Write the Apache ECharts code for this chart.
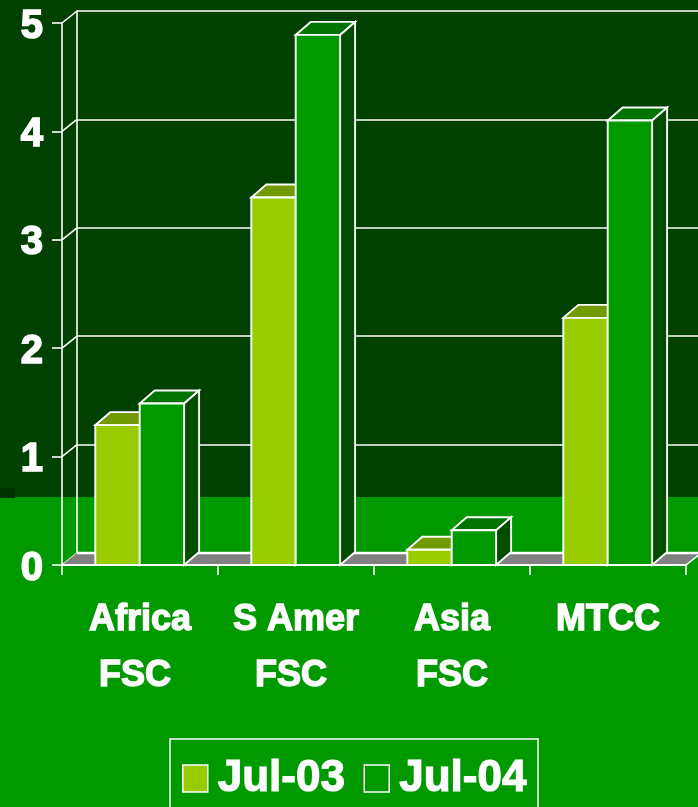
<!DOCTYPE html>
<html><head><meta charset="utf-8">
<style>html,body{margin:0;padding:0;background:#009900}#c{width:698px;height:807px}</style>
<script src="https://cdn.jsdelivr.net/npm/echarts@6/dist/echarts.min.js"></script>
</head><body><div id="c"></div>
<script>
const categories = ['Africa\nFSC ', 'S Amer\nFSC ', 'Asia\nFSC', 'MTCC'];
const jul03 = [1.29, 3.39, 0.14, 2.28];
const jul04 = [1.49, 4.89, 0.32, 4.10];
const yTicks = [0, 1, 2, 3, 4, 5];

const DX = 15, DY = -12, BDY = -13, BAR = 44.4 / 156;
const WHITE = '#ffffff', DARK = '#004000', GREEN = '#009900';
const chart = echarts.init(document.getElementById('c'));

function barSeries(name, data, side, front, top, sideCol) {
  return {
    name, type: 'custom', xAxisIndex: 0, yAxisIndex: 0, z: 3,
    data: data.map((v, i) => [i, v]),
    renderItem(p, api) {
      const base = api.coord([api.value(0), 0]);
      const tip = api.coord([api.value(0), api.value(1)]);
      const w = api.size([1, 0])[0] * BAR;
      const x0 = (side < 0 ? base[0] - w : base[0]) - 0.3, x1 = x0 + w;
      const y0 = base[1], y1 = tip[1];
      const st = { stroke: WHITE, lineWidth: 1.9, lineJoin: 'miter' };
      return { type: 'group', children: [
        { type: 'polygon', shape: { points: [[x0, y1], [x1, y1], [x1 + DX, y1 + BDY], [x0 + DX, y1 + BDY]] }, style: { fill: top, ...st } },
        { type: 'polygon', shape: { points: [[x1, y0], [x1 + DX, y0 + BDY], [x1 + DX, y1 + BDY], [x1, y1]] }, style: { fill: sideCol, ...st } },
        { type: 'rect', shape: { x: x0, y: y1, width: w, height: y0 - y1 }, style: { fill: front, ...st } }
      ] };
    }
  };
}

const floorSeries = {
  type: 'custom', xAxisIndex: 0, yAxisIndex: 0, z: 2, data: [[0, 0]], silent: true,
  renderItem(p, api) {
    const c = p.coordSys, y = api.coord([0, 0])[1];
    return { type: 'group', children: [
      { type: 'polygon', shape: { points: [[c.x, y], [c.x + DX, y + DY], [c.x + c.width + DX, y + DY], [c.x + c.width, y]] }, style: { fill: '#808080', stroke: 'none' } },
      { type: 'line', shape: { x1: c.x + DX, y1: y + DY, x2: c.x + c.width + DX, y2: y + DY }, style: { stroke: WHITE, lineWidth: 2.4 } },
      { type: 'line', shape: { x1: c.x + c.width, y1: y, x2: c.x + c.width + DX, y2: y + DY }, style: { stroke: WHITE, lineWidth: 1.6 } }
    ] };
  }
};

const diagSeries = {
  type: 'custom', xAxisIndex: 0, yAxisIndex: 0, z: 1, silent: true,
  data: yTicks.map(v => [0, v]),
  renderItem(p, api) {
    const x = p.coordSys.x, y = api.coord([0, api.value(1)])[1];
    return { type: 'line', shape: { x1: x, y1: y, x2: x + DX, y2: y + DY }, style: { stroke: WHITE, lineWidth: 1.6 } };
  }
};

const heavy = { color: WHITE, fontFamily: 'Liberation Sans', fontWeight: 'bold', textBorderColor: WHITE };

chart.setOption({
  animation: false,
  backgroundColor: { type: 'linear', x: 0, y: 0, x2: 0, y2: 1, colorStops: [
    { offset: 0, color: DARK }, { offset: 497 / 807, color: DARK },
    { offset: 497 / 807, color: GREEN }, { offset: 1, color: GREEN } ] },
  graphic: [{ type: 'rect', left: 0, top: 488, shape: { width: 15, height: 10 }, style: { fill: '#003300' }, z: 0, silent: true }],
  grid: [
    { left: 62, top: 23, width: 624, height: 542 },
    { left: 77, top: 11, width: 624, height: 542 }
  ],
  xAxis: [
    { type: 'category', gridIndex: 0, data: categories, z: 5,
      axisLine: { lineStyle: { color: WHITE, width: 1.8 } },
      axisTick: { show: true, length: 10, alignWithLabel: false, lineStyle: { color: WHITE, width: 1.6 } },
      axisLabel: { ...heavy, interval: 0, margin: 27, fontSize: 36, lineHeight: 56, textBorderWidth: 1.4 } },
    { type: 'value', gridIndex: 1, min: 0, max: 1, show: false }
  ],
  yAxis: [
    { type: 'value', gridIndex: 0, min: 0, max: 5, interval: 1, z: 5,
      splitLine: { show: false },
      axisLine: { show: true, lineStyle: { color: WHITE, width: 1.6 } },
      axisTick: { show: true, length: 10, lineStyle: { color: WHITE, width: 1.6 } },
      axisLabel: { margin: 19, formatter: '{a|{value}}',
        rich: { a: { ...heavy, fontSize: 40, textBorderWidth: 1.6, padding: [7, 0, 0, 0] } } } },
    { type: 'value', gridIndex: 1, min: 0, max: 5, interval: 1,
      axisLabel: { show: false }, axisTick: { show: false },
      axisLine: { show: true, lineStyle: { color: WHITE, width: 1.6 } },
      splitLine: { show: true, lineStyle: { color: WHITE, width: 1.6, type: 'solid' } } }
  ],
  legend: {
    left: 170, top: 739, orient: 'horizontal', padding: [17, 11, 37, 12], itemGap: 18,
    itemWidth: 25, itemHeight: 27, icon: 'rect',
    borderColor: WHITE, borderWidth: 1.5, borderRadius: 0,
    textStyle: { ...heavy, fontSize: 44, textBorderWidth: 1.2, padding: [0, 0, 0, 5] },
    itemStyle: { borderColor: WHITE, borderWidth: 1.5 },
    data: [
      { name: 'Jul-03', itemStyle: { color: '#99CC00' } },
      { name: 'Jul-04', itemStyle: { color: GREEN } }
    ]
  },
  series: [
    diagSeries, floorSeries,
    barSeries('Jul-03', jul03, -1, '#99CC00', '#739900', '#4d6600'),
    barSeries('Jul-04', jul04, 1, '#009900', '#007300', '#004d00')
  ]
});
</script></body></html>
